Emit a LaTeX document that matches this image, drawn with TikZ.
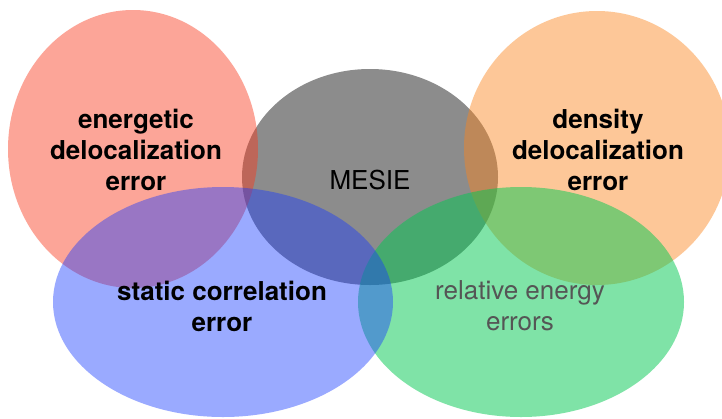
\documentclass[tikz,border=0pt]{standalone}
\usepackage{fontspec}
\setmainfont{TeX Gyre Heros}
\definecolor{cred}{RGB}{249,56,27}
\definecolor{corange}{RGB}{252,133,27}
\definecolor{cblue}{RGB}{23,58,255}
\definecolor{cgreen}{RGB}{0,201,81}
\definecolor{ctext}{RGB}{85,85,85}
\tikzset{
  blob/.style={draw=none},
  lbl/.style={align=center, font=\fontsize{26}{31}\selectfont\bfseries, inner sep=0pt},
  lblr/.style={align=center, font=\fontsize{26}{31}\selectfont, inner sep=0pt}
}
\begin{document}
\begin{tikzpicture}[x=1pt,y=-1pt]
\clip (0,0) rectangle (722,418);
\fill[white] (0,0) rectangle (722,418);
\fill[blob, black, opacity=0.45] (370,177) ellipse [x radius=128, y radius=108];
\fill[blob, cred, opacity=0.45] (133,149) ellipse [x radius=125, y radius=139];
\fill[blob, corange, opacity=0.45] (597,148) ellipse [x radius=133, y radius=137];
\fill[blob, cgreen, opacity=0.5] (521,302) ellipse [x radius=163, y radius=115];
\fill[blob, cblue, opacity=0.43] (223,302) ellipse [x radius=170, y radius=115];
\node[lbl] (ede) at (136,150) {energetic\\delocalization\\error};
\node[lbl] (dde) at (598,150) {density\\delocalization\\error};
\node[lblr] (mesie) at (370,180) {MESIE};
\node[lbl] (sce) at (222,306) {static correlation\\error};
\node[lblr, text=ctext] (ree) at (520,306) {relative energy\\errors};
\end{tikzpicture}
\end{document}
